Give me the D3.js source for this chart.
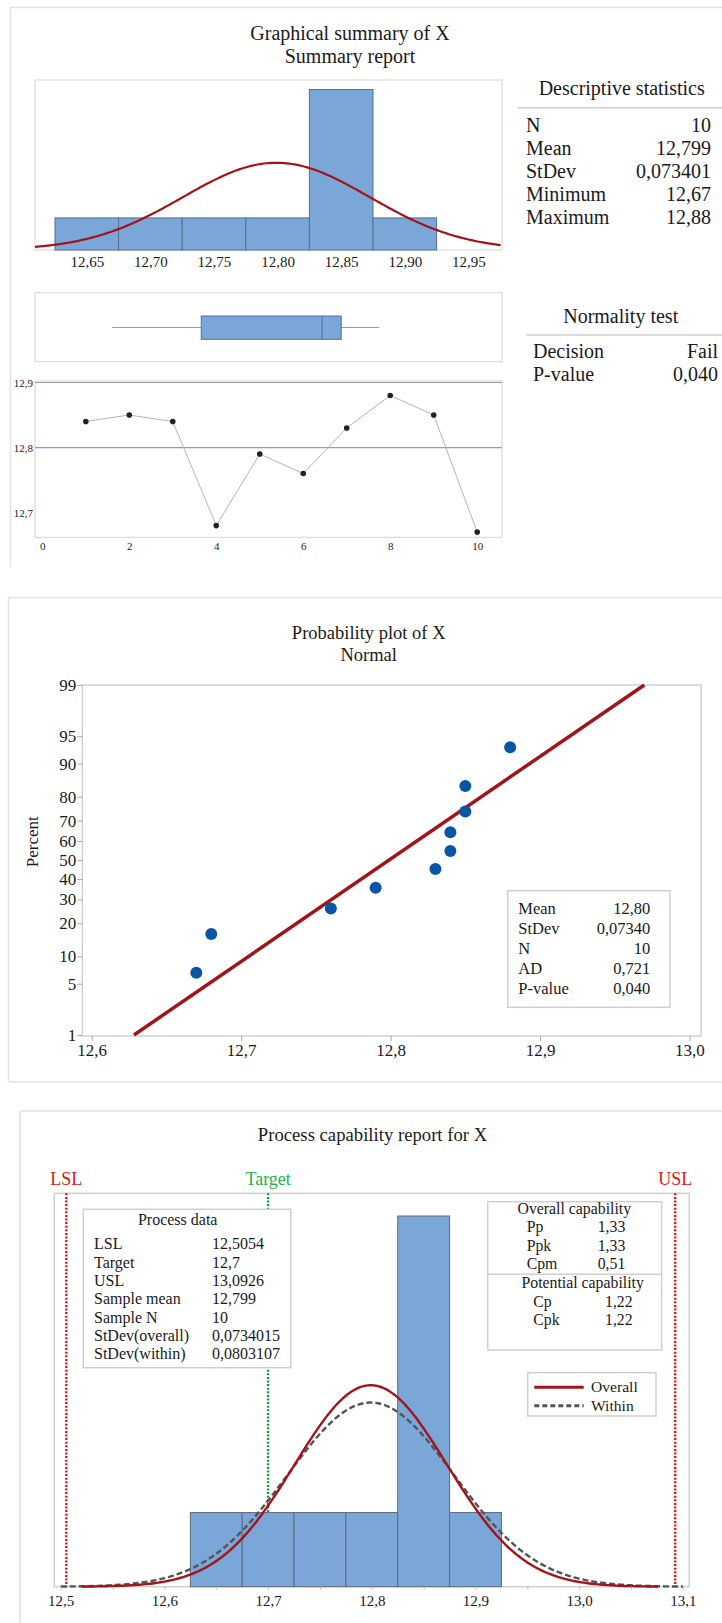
<!DOCTYPE html>
<html><head><meta charset="utf-8">
<script src="https://cdn.jsdelivr.net/npm/d3@7"></script>
<style>
body{margin:0;background:#fff}
svg{display:block;font-family:"Liberation Serif","Times New Roman",serif}
text{fill:#1a1a1a}
</style>
</head><body><svg id="c" width="722" height="1623"></svg>
<script>
// ---------------- DATA ----------------
const observations = [1,2,3,4,5,6,7,8,9,10];
const values = [12.84,12.85,12.84,12.68,12.79,12.76,12.83,12.88,12.85,12.67];
const binEdges = [12.625,12.675,12.725,12.775,12.825,12.875,12.925];
const binCounts = [1,1,1,1,5,1];
const sampleMean = 12.799, stdevOverall = 0.073401, stdevWithin = 0.0803107, sampleN = 10, binWidth = 0.05;
const boxStats = [12.67, 12.74, 12.835, 12.85, 12.88]; // min, Q1, median, Q3, max
const histTicks = [12.65,12.70,12.75,12.80,12.85,12.90,12.95];
const runTicksX = [0,2,4,6,8,10];
const runTicksY = [12.7,12.8,12.9];
const runRefLines = [12.8,12.9];
const descLabels = ["N","Mean","StDev","Minimum","Maximum"];
const descValues = ["10","12,799","0,073401","12,67","12,88"];
const normLabels = ["Decision","P-value"];
const normValues = ["Fail","0,040"];
const probX = [12.67,12.68,12.76,12.79,12.83,12.84,12.84,12.85,12.85,12.88];
const probPct = [6.7,16.3,26.0,35.6,45.2,54.8,64.4,74.0,83.7,93.3];
const probTicksY = [1,5,10,20,30,40,50,60,70,80,90,95,99];
const probTicksX = [12.6,12.7,12.8,12.9,13.0];
const probLegendLabels = ["Mean","StDev","N","AD","P-value"];
const probLegendValues = ["12,80","0,07340","10","0,721","0,040"];
const LSL = 12.5054, USL = 13.0926, TARGET = 12.7;
const capTicks = [12.5,12.6,12.7,12.8,12.9,13.0,13.1];
const capMinorTicks = [12.55,12.65,12.75,12.85,12.95,13.05];
const processLabels = ["LSL","Target","USL","Sample mean","Sample N","StDev(overall)","StDev(within)"];
const processValues = ["12,5054","12,7","13,0926","12,799","10","0,0734015","0,0803107"];
const overallCapLabels = ["Pp","Ppk","Cpm"];
const overallCapValues = ["1,33","1,33","0,51"];
const potentialCapLabels = ["Cp","Cpk"];
const potentialCapValues = ["1,22","1,22"];

// ---------------- HELPERS ----------------
const loc = d3.formatLocale({decimal:",",thousands:".",grouping:[3],currency:["",""]});
const f1 = loc.format(".1f"), f2 = loc.format(".2f");
const pdf = (x,m,s)=>Math.exp(-0.5*((x-m)/s)**2)/(s*Math.sqrt(2*Math.PI));
function qnorm(p){
 const a=[-3.969683028665376e+01,2.209460984245205e+02,-2.759285104469687e+02,1.383577518672690e+02,-3.066479806614716e+01,2.506628277459239e+00];
 const b=[-5.447609879822406e+01,1.615858368580409e+02,-1.556989798598866e+02,6.680131188771972e+01,-1.328068155288572e+01];
 const c=[-7.784894002430293e-03,-3.223964580411365e-01,-2.400758277161838e+00,-2.549732539343734e+00,4.374664141464968e+00,2.938163982698783e+00];
 const d=[7.784695709041462e-03,3.224671290700398e-01,2.445134137142996e+00,3.754408661907416e+00];
 const pl=0.02425, ph=1-pl; let q,r;
 if(p<pl){q=Math.sqrt(-2*Math.log(p));return (((((c[0]*q+c[1])*q+c[2])*q+c[3])*q+c[4])*q+c[5])/((((d[0]*q+d[1])*q+d[2])*q+d[3])*q+1);}
 if(p<=ph){q=p-0.5;r=q*q;return (((((a[0]*r+a[1])*r+a[2])*r+a[3])*r+a[4])*r+a[5])*q/(((((b[0]*r+b[1])*r+b[2])*r+b[3])*r+b[4])*r+1);}
 q=Math.sqrt(-2*Math.log(1-p));return -(((((c[0]*q+c[1])*q+c[2])*q+c[3])*q+c[4])*q+c[5])/((((d[0]*q+d[1])*q+d[2])*q+d[3])*q+1);
}
const svg = d3.select("#c");
const BAR="#7ba6d8", BARSTROKE="#56708f", RED="#a3141a", FRAME="#d4d4d4";
function txt(g,x,y,s,size,anchor,color){
  const t=g.append("text").attr("x",x).attr("y",y).attr("font-size",size).attr("text-anchor",anchor||"start").text(s);
  if(color) t.style("fill",color);
  return t;
}
function line(g,x1,y1,x2,y2,color,w){
  return g.append("line").attr("x1",x1).attr("y1",y1).attr("x2",x2).attr("y2",y2).attr("stroke",color).attr("stroke-width",w||1);
}
function styleAxis(g,size,tickColor){
  g.select(".domain").remove();
  g.selectAll(".tick line").attr("stroke",tickColor||"#aaa");
  g.selectAll(".tick text").attr("font-size",size).attr("font-family","Liberation Serif, Times New Roman, serif").style("fill","#1a1a1a");
}

// ================= PANEL 1 =================
const p1 = svg.append("g");
line(p1,10,7.5,722,7.5,"#e2e2e2",1.5);
line(p1,10.5,7,10.5,567,"#e2e2e2",1.5);
txt(p1,350,40,"Graphical summary of X",20,"middle");
txt(p1,350,63,"Summary report",20,"middle");

// histogram
const hx = d3.scaleLinear([12.6093,12.9764],[35,502]);
const hy = d3.scaleLinear([0,5],[250,89.5]);
p1.append("rect").attr("x",35).attr("y",80).attr("width",467).attr("height",170).attr("fill","none").attr("stroke",FRAME);
p1.selectAll(".hbar").data(binCounts).join("rect")
  .attr("x",(d,i)=>hx(binEdges[i])).attr("width",(d,i)=>hx(binEdges[i+1])-hx(binEdges[i]))
  .attr("y",d=>hy(d)).attr("height",d=>hy(0)-hy(d))
  .attr("fill",BAR).attr("stroke",BARSTROKE).attr("stroke-width",1);
const hxs = d3.range(12.6093,12.9765,0.002);
p1.append("path").datum(hxs)
  .attr("d",d3.line().x(d=>hx(d)).y(d=>hy(sampleN*binWidth*pdf(d,sampleMean,stdevOverall))))
  .attr("fill","none").attr("stroke",RED).attr("stroke-width",2.2);
const hax = p1.append("g").attr("transform","translate(0,250)")
  .call(d3.axisBottom(hx).tickValues(histTicks).tickFormat(f2).tickSize(0).tickPadding(6));
styleAxis(hax,15);

// descriptive statistics
txt(p1,621.7,95,"Descriptive statistics",20,"middle");
line(p1,518,107.7,722,107.7,"#cfcfcf",1.5);
descLabels.forEach((l,i)=>{ txt(p1,526,132+i*23,l,20); txt(p1,711,132+i*23,descValues[i],20,"end"); });

// boxplot
const bx = hx;
p1.append("rect").attr("x",35).attr("y",292.7).attr("width",467).attr("height",69).attr("fill","none").attr("stroke",FRAME);
line(p1,bx(boxStats[0]),327.5,bx(boxStats[1]),327.5,"#9a9a9a",1);
line(p1,bx(boxStats[3]),327.5,bx(boxStats[4]),327.5,"#9a9a9a",1);
p1.append("rect").attr("x",bx(boxStats[1])).attr("y",316).attr("width",bx(boxStats[3])-bx(boxStats[1])).attr("height",23.3)
  .attr("fill",BAR).attr("stroke","#4d70a6");
line(p1,bx(boxStats[2]),316,bx(boxStats[2]),339.3,"#4d70a6",1);

// normality test
txt(p1,620.7,323.3,"Normality test",20,"middle");
line(p1,526,335,722,335,"#cfcfcf",1.5);
normLabels.forEach((l,i)=>{ txt(p1,533,358+i*23,l,20); txt(p1,718,358+i*23,normValues[i],20,"end"); });

// run chart
const tx = d3.scaleLinear([-0.168,10.57],[35,502]);
const ty = d3.scaleLinear([12.662,12.9],[537.3,382.5]);
p1.append("rect").attr("x",35).attr("y",381).attr("width",467).attr("height",156.3).attr("fill","none").attr("stroke",FRAME);
runRefLines.forEach(v=>line(p1,35,ty(v),502,ty(v),"#9c9c9c",1.2));
p1.append("path").datum(values)
  .attr("d",d3.line().x((d,i)=>tx(observations[i])).y(d=>ty(d)))
  .attr("fill","none").attr("stroke","#b5b5b5").attr("stroke-width",1);
p1.selectAll(".rp").data(values).join("circle")
  .attr("cx",(d,i)=>tx(observations[i])).attr("cy",d=>ty(d)).attr("r",2.8).attr("fill","#222");
const tax = p1.append("g").attr("transform","translate(0,537.3)")
  .call(d3.axisBottom(tx).tickValues(runTicksX).tickSize(0).tickPadding(5));
styleAxis(tax,11);
const tay = p1.append("g").attr("transform","translate(35,0)")
  .call(d3.axisLeft(ty).tickValues(runTicksY).tickFormat(f1).tickSize(0).tickPadding(2));
styleAxis(tay,11);

// ================= PANEL 2 =================
const p2 = svg.append("g");
line(p2,8.5,597.5,722,597.5,"#e2e2e2",1.5);
line(p2,8.5,597.5,8.5,1081.7,"#e2e2e2",1.5);
line(p2,8.5,1081.7,722,1081.7,"#e2e2e2",1.5);
txt(p2,368.7,639.3,"Probability plot of X",18.5,"middle");
txt(p2,368.7,660.7,"Normal",18.5,"middle");
const px = d3.scaleLinear([12.5937,13.0077],[82.3,701]);
const pz = d3.scaleLinear([qnorm(0.01),qnorm(0.99)],[1035,685]);
p2.append("rect").attr("x",82.3).attr("y",685).attr("width",701-82.3).attr("height",1036-685).attr("fill","none").attr("stroke","#cfcfcf").attr("stroke-width",1.5);
const pay = p2.append("g").attr("transform","translate(82.3,0)")
  .call(d3.axisLeft(pz).tickValues(probTicksY.map(p=>qnorm(p/100))).tickFormat((d,i)=>probTicksY[i]).tickSize(5).tickPadding(1));
styleAxis(pay,17);
const pax = p2.append("g").attr("transform","translate(0,1036)")
  .call(d3.axisBottom(px).tickValues(probTicksX).tickFormat(f1).tickSize(5).tickPadding(3));
styleAxis(pax,17);
txt(p2,0,0,"Percent",17,"middle").attr("transform","translate(31.7,841.7) rotate(-90)").attr("dy","0.35em");
const zlo = qnorm(0.01), zhi = qnorm(0.99);
p2.append("path").datum([zlo,zhi])
  .attr("d",d3.line().x(z=>px(sampleMean+z*stdevOverall)).y(z=>pz(z)))
  .attr("stroke",RED).attr("stroke-width",3.5).attr("fill","none");
p2.selectAll(".pp").data(probX).join("circle")
  .attr("cx",d=>px(d)).attr("cy",(d,i)=>pz(qnorm(probPct[i]/100))).attr("r",6).attr("fill","#0a55a6");
p2.append("rect").attr("x",507.7).attr("y",890.7).attr("width",162.3).attr("height",116.6).attr("fill","#fff").attr("stroke","#cfcfcf").attr("stroke-width",1.5);
probLegendLabels.forEach((l,i)=>{ txt(p2,518.3,914+i*20,l,16.5); txt(p2,650.3,914+i*20,probLegendValues[i],16.5,"end"); });

// ================= PANEL 3 =================
const p3 = svg.append("g");
line(p3,20,1111,722,1111,"#e2e2e2",1.5);
line(p3,20,1111,20,1623,"#e2e2e2",1.5);
txt(p3,372.5,1141,"Process capability report for X",18.7,"middle");
const cx = d3.scaleLinear([12.4938,13.1062],[54.3,689.3]);
const cy = d3.scaleLinear([0,5],[1586.7,1216]);
const top3 = 1193.3, bot3 = 1586.7;
p3.append("rect").attr("x",54.3).attr("y",top3).attr("width",689.3-54.3).attr("height",bot3-top3).attr("fill","none").attr("stroke","#cfcfcf").attr("stroke-width",1.5);
// spec lines
const specs = [{v:LSL,c:"#e0141c",t:"LSL",tc:"#d9161d"},{v:TARGET,c:"#0aa03c",t:"Target",tc:"#25b24c"},{v:USL,c:"#e0141c",t:"USL",tc:"#d9161d"}];
specs.forEach(s=>{
  line(p3,cx(s.v),top3,cx(s.v),bot3,s.c,2.4).attr("stroke-dasharray","2,1.6");
  txt(p3,cx(s.v),1185,s.t,18,"middle",s.tc);
});
// process data box
p3.append("rect").attr("x",83.3).attr("y",1209.3).attr("width",207.4).attr("height",158.4).attr("fill","#fff").attr("stroke","#cfcfcf").attr("stroke-width",1.5);
txt(p3,177.7,1225,"Process data",16,"middle");
processLabels.forEach((l,i)=>{ txt(p3,94,1249.3+i*18.3,l,16); txt(p3,212,1249.3+i*18.3,processValues[i],16); });
// capability box
p3.append("rect").attr("x",487.7).attr("y",1201.7).attr("width",174).attr("height",148.3).attr("fill","#fff").attr("stroke","#cfcfcf").attr("stroke-width",1.5);
line(p3,487.7,1274.3,661.7,1274.3,"#cfcfcf",1.5);
txt(p3,574.3,1214,"Overall capability",15.8,"middle");
overallCapLabels.forEach((l,i)=>{ txt(p3,526.7,1232.3+i*18.5,l,15.8); txt(p3,597.7,1232.3+i*18.5,overallCapValues[i],15.8); });
txt(p3,582.7,1288.3,"Potential capability",15.8,"middle");
potentialCapLabels.forEach((l,i)=>{ txt(p3,533.3,1306.7+i*18.6,l,15.8); txt(p3,605,1306.7+i*18.6,potentialCapValues[i],15.8); });
// bars
p3.selectAll(".cbar").data(binCounts).join("rect")
  .attr("x",(d,i)=>cx(binEdges[i])).attr("width",(d,i)=>cx(binEdges[i+1])-cx(binEdges[i]))
  .attr("y",d=>cy(d)).attr("height",d=>cy(0)-cy(d))
  .attr("fill",BAR).attr("stroke","#5d6b7d").attr("stroke-width",1);
// curves
const curve = (s,lo,hi)=>d3.range(Math.max(12.5,sampleMean-3.8*s),Math.min(13.1,sampleMean+3.8*s)+1e-9,0.002);
p3.append("path").datum(curve(stdevWithin))
  .attr("d",d3.line().x(d=>cx(d)).y(d=>cy(sampleN*binWidth*pdf(d,sampleMean,stdevWithin))))
  .attr("fill","none").attr("stroke","#555").attr("stroke-width",2.4).attr("stroke-dasharray","6,3");
p3.append("path").datum(curve(stdevOverall))
  .attr("d",d3.line().x(d=>cx(d)).y(d=>cy(sampleN*binWidth*pdf(d,sampleMean,stdevOverall))))
  .attr("fill","none").attr("stroke",RED).attr("stroke-width",2.4);
// axis
const cax = p3.append("g").attr("transform",`translate(0,${bot3})`)
  .call(d3.axisBottom(cx).tickValues(capTicks).tickFormat(f1).tickSize(3).tickPadding(6));
styleAxis(cax,15,"#bbb");
const cmx = p3.append("g").attr("transform",`translate(0,${bot3})`)
  .call(d3.axisBottom(cx).tickValues(capMinorTicks).tickFormat("").tickSize(3));
styleAxis(cmx,15,"#bbb");
// legend
p3.append("rect").attr("x",527.7).attr("y",1372.7).attr("width",128.3).attr("height",43.3).attr("fill","#fff").attr("stroke","#cfcfcf").attr("stroke-width",1.5);
line(p3,534.3,1387.3,583.7,1387.3,RED,3);
line(p3,534.3,1405.7,583.7,1405.7,"#555",3).attr("stroke-dasharray","5,3");
txt(p3,591,1391.7,"Overall",15.6);
txt(p3,591,1410.7,"Within",15.6);
</script>
</body></html>
